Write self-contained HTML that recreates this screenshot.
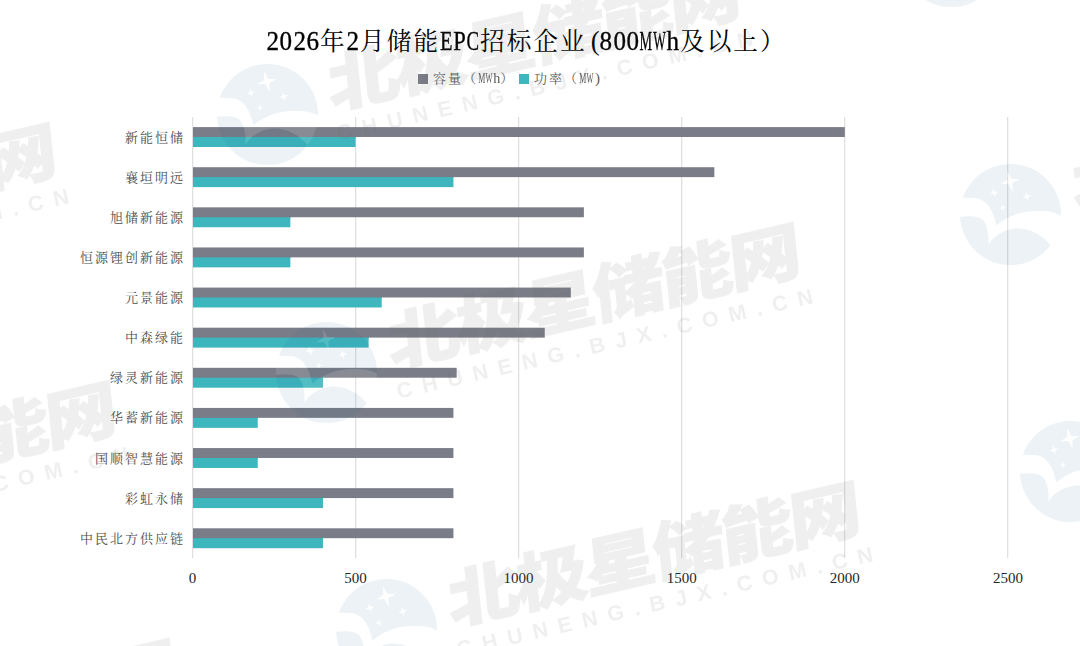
<!DOCTYPE html>
<html><head><meta charset="utf-8"><title>2026年2月储能EPC招标企业</title>
<style>
html,body{margin:0;padding:0}
body{width:1080px;height:646px;overflow:hidden;background:#fff;position:relative;font-family:"Liberation Serif","Noto Serif CJK SC",serif}
#plot{position:absolute;left:0;top:0}
.h{display:inline-block;width:0.5em;text-align:center;font-family:"Liberation Serif",serif}
.h i{display:inline-block;font-style:normal;margin:0 -2em}
#title{position:absolute;left:266px;top:25.3px;font-size:26.67px;line-height:32px;white-space:nowrap;color:#000}
#title .c{font-size:24.6px;letter-spacing:2.07px;position:relative;left:0.8px;top:-0.3px}
#title .h{-webkit-text-stroke:0.35px #000}
#title .p{-webkit-text-stroke:0;position:relative;left:2.5px}
#legend{position:absolute;top:71px;left:418px;font-size:15px;line-height:16px;white-space:nowrap;color:#595959}
#legend .c{font-size:13px;letter-spacing:2px}
#legend .h{width:7.4px}
.sq{position:absolute;top:3px;width:10px;height:10px}
.lt{position:absolute;top:-1px}
.cl{position:absolute;right:895px;font-size:13px;line-height:20px;white-space:nowrap;color:#4d4d4d;letter-spacing:2px}
.xl{position:absolute;top:567.5px;width:60px;text-align:center;font-size:15px;line-height:20px;color:#262626}
.wm{position:absolute;width:0;height:0}
.lg{position:absolute;left:-50.5px;top:-50.5px}
.wt{position:absolute;left:65px;top:-62px;font-family:"Liberation Sans","Noto Sans CJK SC",sans-serif;font-weight:900;font-size:63px;line-height:70px;white-space:nowrap;color:rgb(105,105,105);opacity:0.097;-webkit-text-stroke:1.2px rgb(105,105,105);letter-spacing:-2.6px;transform-origin:0 100%;transform:rotate(-13deg) skewX(-7deg) scale(1.16,1.0)}
.wu{position:absolute;left:70px;top:8px;font-family:"Liberation Sans",sans-serif;font-weight:bold;font-size:21.5px;line-height:24px;white-space:nowrap;color:rgb(105,105,105);opacity:0.097;letter-spacing:10.4px;transform-origin:0 50%;transform:rotate(-13deg)}
</style></head><body>
<svg id="plot" width="1080" height="646" viewBox="0 0 1080 646">
<rect x="192" y="117" width="1.3" height="441" fill="#e0e0e0"/>
<rect x="355" y="117" width="1.3" height="441" fill="#e0e0e0"/>
<rect x="518" y="117" width="1.3" height="441" fill="#e0e0e0"/>
<rect x="681" y="117" width="1.3" height="441" fill="#e0e0e0"/>
<rect x="844" y="117" width="1.3" height="441" fill="#e0e0e0"/>
<rect x="1007" y="117" width="1.3" height="441" fill="#e0e0e0"/>
<rect x="193" y="127.10" width="651.80" height="9.9" fill="#7a7c87"/>
<rect x="193" y="136.00" width="162.57" height="2" fill="#7a7c87"/>
<rect x="193" y="137.00" width="162.57" height="10" fill="#3db6bd"/>
<rect x="193" y="167.22" width="521.34" height="9.9" fill="#7a7c87"/>
<rect x="193" y="176.12" width="260.42" height="2" fill="#7a7c87"/>
<rect x="193" y="177.12" width="260.42" height="10" fill="#3db6bd"/>
<rect x="193" y="207.34" width="390.88" height="9.9" fill="#7a7c87"/>
<rect x="193" y="216.24" width="97.35" height="2" fill="#7a7c87"/>
<rect x="193" y="217.24" width="97.35" height="10" fill="#3db6bd"/>
<rect x="193" y="247.46" width="390.88" height="9.9" fill="#7a7c87"/>
<rect x="193" y="256.36" width="97.35" height="2" fill="#7a7c87"/>
<rect x="193" y="257.36" width="97.35" height="10" fill="#3db6bd"/>
<rect x="193" y="287.58" width="377.83" height="9.9" fill="#7a7c87"/>
<rect x="193" y="296.48" width="188.67" height="2" fill="#7a7c87"/>
<rect x="193" y="297.48" width="188.67" height="10" fill="#3db6bd"/>
<rect x="193" y="327.70" width="351.74" height="9.9" fill="#7a7c87"/>
<rect x="193" y="336.60" width="175.62" height="2" fill="#7a7c87"/>
<rect x="193" y="337.60" width="175.62" height="10" fill="#3db6bd"/>
<rect x="193" y="367.82" width="263.68" height="9.9" fill="#7a7c87"/>
<rect x="193" y="376.72" width="129.96" height="2" fill="#7a7c87"/>
<rect x="193" y="377.72" width="129.96" height="10" fill="#3db6bd"/>
<rect x="193" y="407.94" width="260.42" height="9.9" fill="#7a7c87"/>
<rect x="193" y="416.84" width="64.73" height="2" fill="#7a7c87"/>
<rect x="193" y="417.84" width="64.73" height="10" fill="#3db6bd"/>
<rect x="193" y="448.06" width="260.42" height="9.9" fill="#7a7c87"/>
<rect x="193" y="456.96" width="64.73" height="2" fill="#7a7c87"/>
<rect x="193" y="457.96" width="64.73" height="10" fill="#3db6bd"/>
<rect x="193" y="488.18" width="260.42" height="9.9" fill="#7a7c87"/>
<rect x="193" y="497.08" width="129.96" height="2" fill="#7a7c87"/>
<rect x="193" y="498.08" width="129.96" height="10" fill="#3db6bd"/>
<rect x="193" y="528.30" width="260.42" height="9.9" fill="#7a7c87"/>
<rect x="193" y="537.20" width="129.96" height="2" fill="#7a7c87"/>
<rect x="193" y="538.20" width="129.96" height="10" fill="#3db6bd"/>
</svg>
<div id="title"><span class="h"><i style="transform:scaleX(0.940)">2</i></span><span class="h"><i style="transform:scaleX(0.940)">0</i></span><span class="h"><i style="transform:scaleX(0.940)">2</i></span><span class="h"><i style="transform:scaleX(0.940)">6</i></span><span class="c">年</span><span class="h"><i style="transform:scaleX(0.940)">2</i></span><span class="c">月储能</span><span class="h"><i style="transform:scaleX(0.769)">E</i></span><span class="h"><i style="transform:scaleX(0.845)">P</i></span><span class="h"><i style="transform:scaleX(0.705)">C</i></span><span class="c">招标企业</span><span class="h p"><i>(</i></span><span class="h"><i style="transform:scaleX(0.940)">8</i></span><span class="h"><i style="transform:scaleX(0.940)">0</i></span><span class="h"><i style="transform:scaleX(0.940)">0</i></span><span class="h"><i style="transform:scaleX(0.529)">M</i></span><span class="h"><i style="transform:scaleX(0.498)">W</i></span><span class="h"><i style="transform:scaleX(0.940)">h</i></span><span class="c">及以上）</span></div>
<div id="legend"><div class="sq" style="left:0;background:#7a7c87"></div><div class="lt" style="left:15px"><span class="c">容量（</span><span class="h"><i style="transform:scaleX(0.529)">M</i></span><span class="h"><i style="transform:scaleX(0.498)">W</i></span><span class="h"><i style="transform:scaleX(0.940)">h</i></span><span class="c">）</span></div><div class="sq" style="left:101px;background:#3db6bd"></div><div class="lt" style="left:116px"><span class="c">功率（</span><span class="h"><i style="transform:scaleX(0.529)">M</i></span><span class="h"><i style="transform:scaleX(0.498)">W</i></span><span class="h p"><i>)</i></span></div></div>
<div class="cl" style="top:127.60px">新能恒储</div>
<div class="cl" style="top:167.72px">襄垣明远</div>
<div class="cl" style="top:207.84px">旭储新能源</div>
<div class="cl" style="top:247.96px">恒源锂创新能源</div>
<div class="cl" style="top:288.08px">元景能源</div>
<div class="cl" style="top:328.20px">中森绿能</div>
<div class="cl" style="top:368.32px">绿灵新能源</div>
<div class="cl" style="top:408.44px">华蓄新能源</div>
<div class="cl" style="top:448.56px">国顺智慧能源</div>
<div class="cl" style="top:488.68px">彩虹永储</div>
<div class="cl" style="top:528.80px">中民北方供应链</div>
<div class="xl" style="left:162.5px">0</div>
<div class="xl" style="left:325.6px">500</div>
<div class="xl" style="left:488.6px">1000</div>
<div class="xl" style="left:651.7px">1500</div>
<div class="xl" style="left:814.8px">2000</div>
<div class="xl" style="left:977.9px">2500</div>
<svg width="0" height="0" style="position:absolute"><defs>
<clipPath id="cc" clipPathUnits="userSpaceOnUse"><circle cx="50" cy="50" r="50"/></clipPath>
<mask id="mk" maskUnits="userSpaceOnUse" x="0" y="0" width="100" height="100"><rect width="100" height="100" fill="#000"/><circle cx="50" cy="50" r="50" fill="#fff"/><path d="M-5,33 L17,34 C27,36 33,46 36,61 C48,50 68,44 88,47 C95,48 100,51 105,54 L105,85 L90,81 C82,70 68,63 54,64 C42,65 33,72 28,80 C29,70 27,60 22,55 C17,51 8,51 -5,53 Z M46.60,6.97 L50.85,14.89 L59.06,14.81 L51.91,18.85 L52.20,27.83 L47.95,19.91 L39.74,19.99 L46.89,15.95Z M32.48,24.06 L34.50,27.21 L38.24,27.38 L35.09,29.40 L34.92,33.14 L32.90,29.99 L29.16,29.82 L32.31,27.80Z M64.98,27.66 L67.00,30.81 L70.74,30.98 L67.59,33.00 L67.42,36.74 L65.40,33.59 L61.66,33.42 L64.81,31.40Z M41.49,39.92 L43.00,42.26 L45.78,42.39 L43.44,43.90 L43.31,46.68 L41.80,44.34 L39.02,44.21 L41.36,42.70Z" fill="#000"/></mask>
</defs></svg>
<div class="wm" style="left:-476.5px;top:14.6px"><svg class="lg" viewBox="0 0 100 100" width="101" height="101"><rect width="100" height="100" fill="rgba(40,105,150,0.087)" mask="url(#mk)"/><path d="M-5,33 L17,34 C27,36 33,46 36,61 C48,50 68,44 88,47 C95,48 100,51 105,54 L105,85 L90,81 C82,70 68,63 54,64 C42,65 33,72 28,80 C29,70 27,60 22,55 C17,51 8,51 -5,53 Z M46.60,6.97 L50.85,14.89 L59.06,14.81 L51.91,18.85 L52.20,27.83 L47.95,19.91 L39.74,19.99 L46.89,15.95Z M32.48,24.06 L34.50,27.21 L38.24,27.38 L35.09,29.40 L34.92,33.14 L32.90,29.99 L29.16,29.82 L32.31,27.80Z M64.98,27.66 L67.00,30.81 L70.74,30.98 L67.59,33.00 L67.42,36.74 L65.40,33.59 L61.66,33.42 L64.81,31.40Z M41.49,39.92 L43.00,42.26 L45.78,42.39 L43.44,43.90 L43.31,46.68 L41.80,44.34 L39.02,44.21 L41.36,42.70Z" fill="rgba(255,255,255,0.11)" clip-path="url(#cc)"/></svg><div class="wt">北极星储能网</div><div class="wu">CHUNENG.BJX.COM.CN</div></div>
<div class="wm" style="left:-416.8px;top:272.4px"><svg class="lg" viewBox="0 0 100 100" width="101" height="101"><rect width="100" height="100" fill="rgba(40,105,150,0.087)" mask="url(#mk)"/><path d="M-5,33 L17,34 C27,36 33,46 36,61 C48,50 68,44 88,47 C95,48 100,51 105,54 L105,85 L90,81 C82,70 68,63 54,64 C42,65 33,72 28,80 C29,70 27,60 22,55 C17,51 8,51 -5,53 Z M46.60,6.97 L50.85,14.89 L59.06,14.81 L51.91,18.85 L52.20,27.83 L47.95,19.91 L39.74,19.99 L46.89,15.95Z M32.48,24.06 L34.50,27.21 L38.24,27.38 L35.09,29.40 L34.92,33.14 L32.90,29.99 L29.16,29.82 L32.31,27.80Z M64.98,27.66 L67.00,30.81 L70.74,30.98 L67.59,33.00 L67.42,36.74 L65.40,33.59 L61.66,33.42 L64.81,31.40Z M41.49,39.92 L43.00,42.26 L45.78,42.39 L43.44,43.90 L43.31,46.68 L41.80,44.34 L39.02,44.21 L41.36,42.70Z" fill="rgba(255,255,255,0.11)" clip-path="url(#cc)"/></svg><div class="wt">北极星储能网</div><div class="wu">CHUNENG.BJX.COM.CN</div></div>
<div class="wm" style="left:-357.1px;top:530.2px"><svg class="lg" viewBox="0 0 100 100" width="101" height="101"><rect width="100" height="100" fill="rgba(40,105,150,0.087)" mask="url(#mk)"/><path d="M-5,33 L17,34 C27,36 33,46 36,61 C48,50 68,44 88,47 C95,48 100,51 105,54 L105,85 L90,81 C82,70 68,63 54,64 C42,65 33,72 28,80 C29,70 27,60 22,55 C17,51 8,51 -5,53 Z M46.60,6.97 L50.85,14.89 L59.06,14.81 L51.91,18.85 L52.20,27.83 L47.95,19.91 L39.74,19.99 L46.89,15.95Z M32.48,24.06 L34.50,27.21 L38.24,27.38 L35.09,29.40 L34.92,33.14 L32.90,29.99 L29.16,29.82 L32.31,27.80Z M64.98,27.66 L67.00,30.81 L70.74,30.98 L67.59,33.00 L67.42,36.74 L65.40,33.59 L61.66,33.42 L64.81,31.40Z M41.49,39.92 L43.00,42.26 L45.78,42.39 L43.44,43.90 L43.31,46.68 L41.80,44.34 L39.02,44.21 L41.36,42.70Z" fill="rgba(255,255,255,0.11)" clip-path="url(#cc)"/></svg><div class="wt">北极星储能网</div><div class="wu">CHUNENG.BJX.COM.CN</div></div>
<div class="wm" style="left:-297.4px;top:788.0px"><svg class="lg" viewBox="0 0 100 100" width="101" height="101"><rect width="100" height="100" fill="rgba(40,105,150,0.087)" mask="url(#mk)"/><path d="M-5,33 L17,34 C27,36 33,46 36,61 C48,50 68,44 88,47 C95,48 100,51 105,54 L105,85 L90,81 C82,70 68,63 54,64 C42,65 33,72 28,80 C29,70 27,60 22,55 C17,51 8,51 -5,53 Z M46.60,6.97 L50.85,14.89 L59.06,14.81 L51.91,18.85 L52.20,27.83 L47.95,19.91 L39.74,19.99 L46.89,15.95Z M32.48,24.06 L34.50,27.21 L38.24,27.38 L35.09,29.40 L34.92,33.14 L32.90,29.99 L29.16,29.82 L32.31,27.80Z M64.98,27.66 L67.00,30.81 L70.74,30.98 L67.59,33.00 L67.42,36.74 L65.40,33.59 L61.66,33.42 L64.81,31.40Z M41.49,39.92 L43.00,42.26 L45.78,42.39 L43.44,43.90 L43.31,46.68 L41.80,44.34 L39.02,44.21 L41.36,42.70Z" fill="rgba(255,255,255,0.11)" clip-path="url(#cc)"/></svg><div class="wt">北极星储能网</div><div class="wu">CHUNENG.BJX.COM.CN</div></div>
<div class="wm" style="left:207.5px;top:-143.5px"><svg class="lg" viewBox="0 0 100 100" width="101" height="101"><rect width="100" height="100" fill="rgba(40,105,150,0.087)" mask="url(#mk)"/><path d="M-5,33 L17,34 C27,36 33,46 36,61 C48,50 68,44 88,47 C95,48 100,51 105,54 L105,85 L90,81 C82,70 68,63 54,64 C42,65 33,72 28,80 C29,70 27,60 22,55 C17,51 8,51 -5,53 Z M46.60,6.97 L50.85,14.89 L59.06,14.81 L51.91,18.85 L52.20,27.83 L47.95,19.91 L39.74,19.99 L46.89,15.95Z M32.48,24.06 L34.50,27.21 L38.24,27.38 L35.09,29.40 L34.92,33.14 L32.90,29.99 L29.16,29.82 L32.31,27.80Z M64.98,27.66 L67.00,30.81 L70.74,30.98 L67.59,33.00 L67.42,36.74 L65.40,33.59 L61.66,33.42 L64.81,31.40Z M41.49,39.92 L43.00,42.26 L45.78,42.39 L43.44,43.90 L43.31,46.68 L41.80,44.34 L39.02,44.21 L41.36,42.70Z" fill="rgba(255,255,255,0.11)" clip-path="url(#cc)"/></svg><div class="wt">北极星储能网</div><div class="wu">CHUNENG.BJX.COM.CN</div></div>
<div class="wm" style="left:267.2px;top:114.3px"><svg class="lg" viewBox="0 0 100 100" width="101" height="101"><rect width="100" height="100" fill="rgba(40,105,150,0.087)" mask="url(#mk)"/><path d="M-5,33 L17,34 C27,36 33,46 36,61 C48,50 68,44 88,47 C95,48 100,51 105,54 L105,85 L90,81 C82,70 68,63 54,64 C42,65 33,72 28,80 C29,70 27,60 22,55 C17,51 8,51 -5,53 Z M46.60,6.97 L50.85,14.89 L59.06,14.81 L51.91,18.85 L52.20,27.83 L47.95,19.91 L39.74,19.99 L46.89,15.95Z M32.48,24.06 L34.50,27.21 L38.24,27.38 L35.09,29.40 L34.92,33.14 L32.90,29.99 L29.16,29.82 L32.31,27.80Z M64.98,27.66 L67.00,30.81 L70.74,30.98 L67.59,33.00 L67.42,36.74 L65.40,33.59 L61.66,33.42 L64.81,31.40Z M41.49,39.92 L43.00,42.26 L45.78,42.39 L43.44,43.90 L43.31,46.68 L41.80,44.34 L39.02,44.21 L41.36,42.70Z" fill="rgba(255,255,255,0.11)" clip-path="url(#cc)"/></svg><div class="wt">北极星储能网</div><div class="wu">CHUNENG.BJX.COM.CN</div></div>
<div class="wm" style="left:326.9px;top:372.1px"><svg class="lg" viewBox="0 0 100 100" width="101" height="101"><rect width="100" height="100" fill="rgba(40,105,150,0.087)" mask="url(#mk)"/><path d="M-5,33 L17,34 C27,36 33,46 36,61 C48,50 68,44 88,47 C95,48 100,51 105,54 L105,85 L90,81 C82,70 68,63 54,64 C42,65 33,72 28,80 C29,70 27,60 22,55 C17,51 8,51 -5,53 Z M46.60,6.97 L50.85,14.89 L59.06,14.81 L51.91,18.85 L52.20,27.83 L47.95,19.91 L39.74,19.99 L46.89,15.95Z M32.48,24.06 L34.50,27.21 L38.24,27.38 L35.09,29.40 L34.92,33.14 L32.90,29.99 L29.16,29.82 L32.31,27.80Z M64.98,27.66 L67.00,30.81 L70.74,30.98 L67.59,33.00 L67.42,36.74 L65.40,33.59 L61.66,33.42 L64.81,31.40Z M41.49,39.92 L43.00,42.26 L45.78,42.39 L43.44,43.90 L43.31,46.68 L41.80,44.34 L39.02,44.21 L41.36,42.70Z" fill="rgba(255,255,255,0.11)" clip-path="url(#cc)"/></svg><div class="wt">北极星储能网</div><div class="wu">CHUNENG.BJX.COM.CN</div></div>
<div class="wm" style="left:386.6px;top:629.9px"><svg class="lg" viewBox="0 0 100 100" width="101" height="101"><rect width="100" height="100" fill="rgba(40,105,150,0.087)" mask="url(#mk)"/><path d="M-5,33 L17,34 C27,36 33,46 36,61 C48,50 68,44 88,47 C95,48 100,51 105,54 L105,85 L90,81 C82,70 68,63 54,64 C42,65 33,72 28,80 C29,70 27,60 22,55 C17,51 8,51 -5,53 Z M46.60,6.97 L50.85,14.89 L59.06,14.81 L51.91,18.85 L52.20,27.83 L47.95,19.91 L39.74,19.99 L46.89,15.95Z M32.48,24.06 L34.50,27.21 L38.24,27.38 L35.09,29.40 L34.92,33.14 L32.90,29.99 L29.16,29.82 L32.31,27.80Z M64.98,27.66 L67.00,30.81 L70.74,30.98 L67.59,33.00 L67.42,36.74 L65.40,33.59 L61.66,33.42 L64.81,31.40Z M41.49,39.92 L43.00,42.26 L45.78,42.39 L43.44,43.90 L43.31,46.68 L41.80,44.34 L39.02,44.21 L41.36,42.70Z" fill="rgba(255,255,255,0.11)" clip-path="url(#cc)"/></svg><div class="wt">北极星储能网</div><div class="wu">CHUNENG.BJX.COM.CN</div></div>
<div class="wm" style="left:446.3px;top:887.7px"><svg class="lg" viewBox="0 0 100 100" width="101" height="101"><rect width="100" height="100" fill="rgba(40,105,150,0.087)" mask="url(#mk)"/><path d="M-5,33 L17,34 C27,36 33,46 36,61 C48,50 68,44 88,47 C95,48 100,51 105,54 L105,85 L90,81 C82,70 68,63 54,64 C42,65 33,72 28,80 C29,70 27,60 22,55 C17,51 8,51 -5,53 Z M46.60,6.97 L50.85,14.89 L59.06,14.81 L51.91,18.85 L52.20,27.83 L47.95,19.91 L39.74,19.99 L46.89,15.95Z M32.48,24.06 L34.50,27.21 L38.24,27.38 L35.09,29.40 L34.92,33.14 L32.90,29.99 L29.16,29.82 L32.31,27.80Z M64.98,27.66 L67.00,30.81 L70.74,30.98 L67.59,33.00 L67.42,36.74 L65.40,33.59 L61.66,33.42 L64.81,31.40Z M41.49,39.92 L43.00,42.26 L45.78,42.39 L43.44,43.90 L43.31,46.68 L41.80,44.34 L39.02,44.21 L41.36,42.70Z" fill="rgba(255,255,255,0.11)" clip-path="url(#cc)"/></svg><div class="wt">北极星储能网</div><div class="wu">CHUNENG.BJX.COM.CN</div></div>
<div class="wm" style="left:951.2px;top:-43.8px"><svg class="lg" viewBox="0 0 100 100" width="101" height="101"><rect width="100" height="100" fill="rgba(40,105,150,0.087)" mask="url(#mk)"/><path d="M-5,33 L17,34 C27,36 33,46 36,61 C48,50 68,44 88,47 C95,48 100,51 105,54 L105,85 L90,81 C82,70 68,63 54,64 C42,65 33,72 28,80 C29,70 27,60 22,55 C17,51 8,51 -5,53 Z M46.60,6.97 L50.85,14.89 L59.06,14.81 L51.91,18.85 L52.20,27.83 L47.95,19.91 L39.74,19.99 L46.89,15.95Z M32.48,24.06 L34.50,27.21 L38.24,27.38 L35.09,29.40 L34.92,33.14 L32.90,29.99 L29.16,29.82 L32.31,27.80Z M64.98,27.66 L67.00,30.81 L70.74,30.98 L67.59,33.00 L67.42,36.74 L65.40,33.59 L61.66,33.42 L64.81,31.40Z M41.49,39.92 L43.00,42.26 L45.78,42.39 L43.44,43.90 L43.31,46.68 L41.80,44.34 L39.02,44.21 L41.36,42.70Z" fill="rgba(255,255,255,0.11)" clip-path="url(#cc)"/></svg><div class="wt">北极星储能网</div><div class="wu">CHUNENG.BJX.COM.CN</div></div>
<div class="wm" style="left:1010.9px;top:214.0px"><svg class="lg" viewBox="0 0 100 100" width="101" height="101"><rect width="100" height="100" fill="rgba(40,105,150,0.087)" mask="url(#mk)"/><path d="M-5,33 L17,34 C27,36 33,46 36,61 C48,50 68,44 88,47 C95,48 100,51 105,54 L105,85 L90,81 C82,70 68,63 54,64 C42,65 33,72 28,80 C29,70 27,60 22,55 C17,51 8,51 -5,53 Z M46.60,6.97 L50.85,14.89 L59.06,14.81 L51.91,18.85 L52.20,27.83 L47.95,19.91 L39.74,19.99 L46.89,15.95Z M32.48,24.06 L34.50,27.21 L38.24,27.38 L35.09,29.40 L34.92,33.14 L32.90,29.99 L29.16,29.82 L32.31,27.80Z M64.98,27.66 L67.00,30.81 L70.74,30.98 L67.59,33.00 L67.42,36.74 L65.40,33.59 L61.66,33.42 L64.81,31.40Z M41.49,39.92 L43.00,42.26 L45.78,42.39 L43.44,43.90 L43.31,46.68 L41.80,44.34 L39.02,44.21 L41.36,42.70Z" fill="rgba(255,255,255,0.11)" clip-path="url(#cc)"/></svg><div class="wt">北极星储能网</div><div class="wu">CHUNENG.BJX.COM.CN</div></div>
<div class="wm" style="left:1070.6px;top:471.8px"><svg class="lg" viewBox="0 0 100 100" width="101" height="101"><rect width="100" height="100" fill="rgba(40,105,150,0.087)" mask="url(#mk)"/><path d="M-5,33 L17,34 C27,36 33,46 36,61 C48,50 68,44 88,47 C95,48 100,51 105,54 L105,85 L90,81 C82,70 68,63 54,64 C42,65 33,72 28,80 C29,70 27,60 22,55 C17,51 8,51 -5,53 Z M46.60,6.97 L50.85,14.89 L59.06,14.81 L51.91,18.85 L52.20,27.83 L47.95,19.91 L39.74,19.99 L46.89,15.95Z M32.48,24.06 L34.50,27.21 L38.24,27.38 L35.09,29.40 L34.92,33.14 L32.90,29.99 L29.16,29.82 L32.31,27.80Z M64.98,27.66 L67.00,30.81 L70.74,30.98 L67.59,33.00 L67.42,36.74 L65.40,33.59 L61.66,33.42 L64.81,31.40Z M41.49,39.92 L43.00,42.26 L45.78,42.39 L43.44,43.90 L43.31,46.68 L41.80,44.34 L39.02,44.21 L41.36,42.70Z" fill="rgba(255,255,255,0.11)" clip-path="url(#cc)"/></svg><div class="wt">北极星储能网</div><div class="wu">CHUNENG.BJX.COM.CN</div></div>
<div class="wm" style="left:1130.3px;top:729.6px"><svg class="lg" viewBox="0 0 100 100" width="101" height="101"><rect width="100" height="100" fill="rgba(40,105,150,0.087)" mask="url(#mk)"/><path d="M-5,33 L17,34 C27,36 33,46 36,61 C48,50 68,44 88,47 C95,48 100,51 105,54 L105,85 L90,81 C82,70 68,63 54,64 C42,65 33,72 28,80 C29,70 27,60 22,55 C17,51 8,51 -5,53 Z M46.60,6.97 L50.85,14.89 L59.06,14.81 L51.91,18.85 L52.20,27.83 L47.95,19.91 L39.74,19.99 L46.89,15.95Z M32.48,24.06 L34.50,27.21 L38.24,27.38 L35.09,29.40 L34.92,33.14 L32.90,29.99 L29.16,29.82 L32.31,27.80Z M64.98,27.66 L67.00,30.81 L70.74,30.98 L67.59,33.00 L67.42,36.74 L65.40,33.59 L61.66,33.42 L64.81,31.40Z M41.49,39.92 L43.00,42.26 L45.78,42.39 L43.44,43.90 L43.31,46.68 L41.80,44.34 L39.02,44.21 L41.36,42.70Z" fill="rgba(255,255,255,0.11)" clip-path="url(#cc)"/></svg><div class="wt">北极星储能网</div><div class="wu">CHUNENG.BJX.COM.CN</div></div>
</body></html>
